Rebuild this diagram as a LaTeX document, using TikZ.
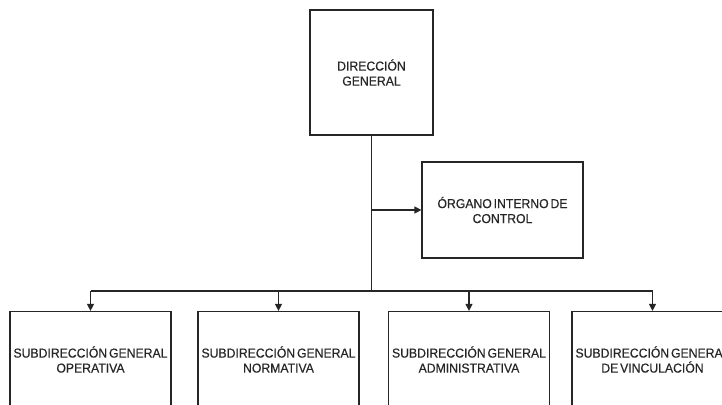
\documentclass[tikz,border=0pt]{standalone}
\usepackage{fontspec}
\setmainfont{Liberation Sans}[FakeStretch=0.94,WordSpace=0.55,FakeBold=0.4]
\usetikzlibrary{arrows.meta}
\begin{document}
\begin{tikzpicture}[x=1pt,y=-1pt,
  box/.style={draw=black!85, line width=1.2pt, fill=white, minimum width=161pt, minimum height=96pt,
    align=center, inner sep=0pt, text=black!85, font=\fontsize{13}{15}\selectfont},
  conn/.style={draw=black!85, line width=1.2pt},
  arr/.style={conn, -{Triangle[length=7pt,width=7pt]}}]
\useasboundingbox (0,0) rectangle (722,404);
\clip (0,0) rectangle (722,404);
\fill[white] (0,0) rectangle (722,404);
\node[box, minimum width=123pt, minimum height=125pt] (dir) at (371.5,72.5) {DIRECCIÓN\\GENERAL};
\node[box] (org) at (502.5,210) {ÓRGANO INTERNO DE\\CONTROL};
\node[box] (s1) at (90.5,359.5) {SUBDIRECCIÓN GENERAL\\OPERATIVA};
\node[box] (s2) at (278.5,359.5) {SUBDIRECCIÓN GENERAL\\NORMATIVA};
\node[box] (s3) at (469,359.5) {SUBDIRECCIÓN GENERAL\\ADMINISTRATIVA};
\node[box] (s4) at (652.5,359.5) {SUBDIRECCIÓN GENERAL\\DE VINCULACIÓN};
\coordinate (bus) at (371.5,291);
\draw[conn] (dir.south) -- (bus);
\draw[arr] (dir.south |- org.west) -- (org.west);
\draw[conn] (s1.north |- bus) -- (s4.north |- bus);
\draw[arr] (s1.north |- bus) -- (s1.north);
\draw[arr] (s2.north |- bus) -- (s2.north);
\draw[arr] (s3.north |- bus) -- (s3.north);
\draw[arr] (s4.north |- bus) -- (s4.north);
\end{tikzpicture}
\end{document}
